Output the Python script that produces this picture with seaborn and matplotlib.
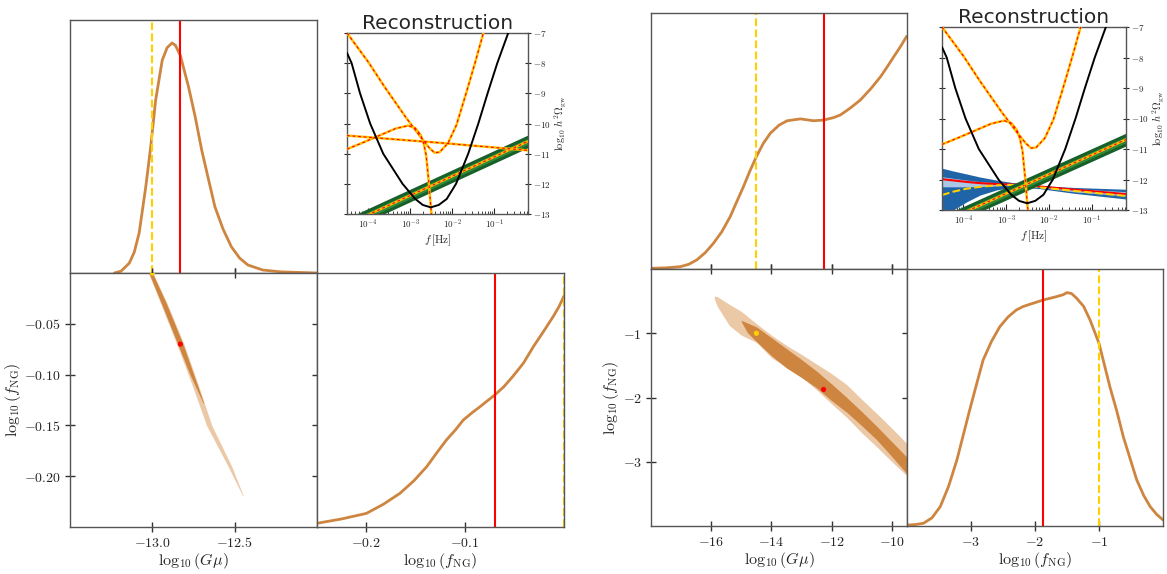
import numpy as np
import matplotlib
matplotlib.use("Agg")
import matplotlib.pyplot as plt
from matplotlib.ticker import FixedLocator, FuncFormatter, LogLocator, NullFormatter
import seaborn as sns

# ---------------- data ----------------
# left set-up: 1D marginals (peak normalised to 1)
gmu_L = [-13.23, -13.19, -13.14, -13.11, -13.08, -13.04, -13.01, -12.98, -12.94, -12.91,
         -12.88, -12.86, -12.83, -12.78, -12.74, -12.70, -12.66, -12.62, -12.57, -12.52,
         -12.47, -12.42, -12.33, -12.22, -12.00]
gmu_L_pdf = [0.0, 0.008, 0.043, 0.09, 0.174, 0.374, 0.548, 0.751, 0.925, 0.98,
             1.0, 0.99, 0.946, 0.809, 0.68, 0.534, 0.41, 0.288, 0.19, 0.114,
             0.065, 0.035, 0.013, 0.005, 0.0]
fng_L = [-0.25, -0.225, -0.20, -0.183, -0.166, -0.152, -0.139, -0.129, -0.119, -0.110,
         -0.102, -0.093, -0.085, -0.078, -0.070, -0.061, -0.052, -0.041, -0.031, -0.021,
         -0.011, -0.005, 0.0]
fng_L_pdf = [0.016, 0.035, 0.059, 0.098, 0.146, 0.2, 0.261, 0.32, 0.377, 0.42,
             0.463, 0.495, 0.521, 0.545, 0.572, 0.607, 0.651, 0.71, 0.781, 0.845,
             0.911, 0.955, 1.0]
# left set-up: 2D credible regions (centre and half width in Gmu, running in fNG)
band_L_fng = [0.0, -0.03, -0.07, -0.11, -0.15, -0.19, -0.219]
band_L_mid = [-13.01, -12.93, -12.83, -12.74, -12.655, -12.53, -12.45]
band_L_half = [0.014, 0.02, 0.022, 0.019, 0.016, 0.011, 0.002]
core_L_fng = [0.0, -0.03, -0.07, -0.10, -0.128]
core_L_mid = [-13.01, -12.93, -12.83, -12.76, -12.69]
core_L_half = [0.011, 0.015, 0.016, 0.011, 0.002]
best_L = [-12.83, -0.07]
inj_L = [-13.0, 0.0]

# right set-up: 1D marginals
gmu_R = [-18.0, -17.5, -17.03, -16.75, -16.48, -16.2, -15.93, -15.65, -15.37, -15.15,
         -14.93, -14.72, -14.50, -14.27, -14.04, -13.75, -13.48, -13.04, -12.60, -12.27,
         -11.95, -11.71, -11.4, -11.05, -10.7, -10.38, -10.15, -9.94, -9.72, -9.51]
gmu_R_pdf = [0.003, 0.005, 0.010, 0.02, 0.039, 0.07, 0.110, 0.16, 0.225, 0.29,
             0.354, 0.42, 0.483, 0.54, 0.583, 0.618, 0.637, 0.645, 0.637, 0.640,
             0.65, 0.662, 0.69, 0.726, 0.775, 0.826, 0.87, 0.912, 0.955, 1.0]
fng_R = [-4.0, -3.87, -3.74, -3.61, -3.48, -3.35, -3.22, -3.12, -3.02, -2.91,
         -2.81, -2.68, -2.55, -2.42, -2.29, -2.18, -2.08, -1.875, -1.66, -1.56,
         -1.50, -1.43, -1.35, -1.24, -1.14, -1.0, -0.83, -0.72, -0.62, -0.51,
         -0.41, -0.30, -0.20, -0.10, 0.0]
fng_R_pdf = [0.004, 0.006, 0.012, 0.035, 0.083, 0.17, 0.283, 0.39, 0.497, 0.61,
             0.711, 0.79, 0.853, 0.895, 0.925, 0.94, 0.949, 0.967, 0.982, 0.99,
             0.999, 0.995, 0.975, 0.94, 0.882, 0.782, 0.596, 0.49, 0.382, 0.285,
             0.197, 0.13, 0.083, 0.05, 0.026]
# right set-up: 2D credible regions (upper / lower fNG edge, running in Gmu)
band_R_gmu = [-15.9, -15.8, -15.4, -15.0, -14.5, -14.0, -13.5, -13.0, -12.5, -12.0,
              -11.5, -11.0, -10.5, -10.0, -9.5]
band_R_hi = [-0.42, -0.43, -0.55, -0.66, -0.85, -1.03, -1.19, -1.33, -1.48, -1.63,
             -1.80, -2.03, -2.25, -2.48, -2.72]
band_R_lo = [-0.46, -0.58, -0.88, -1.03, -1.14, -1.38, -1.53, -1.68, -1.88, -2.10,
             -2.31, -2.55, -2.77, -3.00, -3.22]
core_R_gmu = [-15.0, -14.8, -14.5, -14.0, -13.5, -13.0, -12.5, -12.0, -11.5, -11.0,
              -10.5, -10.0, -9.5]
core_R_hi = [-0.80, -0.84, -0.90, -1.07, -1.24, -1.41, -1.59, -1.79, -2.00, -2.22,
             -2.45, -2.69, -2.93]
core_R_lo = [-0.82, -0.99, -1.13, -1.35, -1.54, -1.69, -1.85, -2.05, -2.23, -2.44,
             -2.66, -2.92, -3.19]
best_R = [-12.27, -1.875]
inj_R = [-14.5, -1.0]

# insets: log10 f [Hz] vs log10 h^2 Omega_gw
lisa_logf = [-4.50, -4.39, -4.19, -3.95, -3.64, -3.18, -2.88, -2.70, -2.51, -2.32,
             -2.13, -1.91, -1.62, -1.38, -1.16, -0.93, -0.67]
lisa_val = [-7.66, -8.0, -9.0, -10.0, -11.0, -12.0, -12.5, -12.7, -12.78, -12.7,
            -12.5, -12.0, -11.0, -10.0, -9.0, -8.0, -7.0]
bump_logf = [-4.5, -4.1, -3.7, -3.35, -3.05, -2.88, -2.75, -2.68, -2.62, -2.56, -2.50, -2.46]
bump_val = [-10.85, -10.62, -10.38, -10.17, -10.07, -10.15, -10.38, -10.65, -11.05, -11.9,
            -12.9, -13.3]
dip_logf = [-4.5, -4.0, -3.6, -3.1, -2.75, -2.55, -2.42, -2.3, -2.1, -1.9, -1.67, -1.45, -1.26]
dip_val = [-7.0, -7.95, -8.8, -9.8, -10.45, -10.8, -10.97, -10.95, -10.65, -10.05,
           -9.0, -7.95, -7.0]
flat_logf = [-4.5, -2.3, -0.2]
flat_val = [-10.40, -10.64, -10.89]
pta_logf = [-4.5, -0.2]
pta_L_val = [-13.35, -10.59]
pta_R_val = [-13.41, -10.69]
# reconstructed string signal in the right inset
str_logf = [-4.5, -4.24, -3.92, -3.61, -3.22, -2.99, -2.75, -2.21, -1.43, -0.2]
str_hi95 = [-11.63, -11.72, -11.82, -11.92, -12.02, -12.07, -12.12, -12.20, -12.26, -12.32]
str_lo95 = [-13.4, -13.0, -12.73, -12.51, -12.34, -12.29, -12.25, -12.30, -12.45, -12.64]
str_hi68 = [-11.91, -11.96, -12.02, -12.07, -12.11, -12.13, -12.15, -12.22, -12.30, -12.40]
str_lo68 = [-12.24, -12.24, -12.24, -12.23, -12.21, -12.19, -12.18, -12.26, -12.40, -12.54]
str_best = [-11.99, -12.03, -12.08, -12.12, -12.15, -12.16, -12.17, -12.23, -12.33, -12.48]
str_inj = [-12.51, -12.40, -12.30, -12.24, -12.19, -12.18, -12.18, -12.26, -12.37, -12.54]

# ---------------- style ----------------
BROWN = "#cd853f"
LIGHT = "#ecc9a6"
GOLD = "#ffd000"
AMBER = "#ffbf00"
W, H = 1167, 574

sns.set_theme(style="ticks")
plt.rcParams["font.family"] = ["DejaVu Sans"]
plt.rcParams["mathtext.fontset"] = "cm"
plt.rcParams["axes.edgecolor"] = "#555555"
plt.rcParams["axes.linewidth"] = 1.0


def place(fig, x0, y0, x1, y1):
    return fig.add_axes([x0 / W, 1 - y1 / H, (x1 - x0) / W, (y1 - y0) / H])


def mfmt(spec):
    return FuncFormatter(lambda v, pos: "$" + format(v, spec) + "$")


def pdf_panel(ax, x, pdf, lim, red, yel, ticks):
    sns.lineplot(x=x, y=pdf, ax=ax, color=BROWN, lw=2.0, sort=False, estimator=None)
    ax.axvline(red, color="red", lw=1.5)
    ax.axvline(yel, color=GOLD, lw=1.5, ls="--")
    ax.set_xlim(lim)
    ax.set_ylim(0, 1.1)
    ax.set_yticks([])
    ax.xaxis.set_major_locator(FixedLocator(ticks))
    ax.tick_params(axis="x", direction="inout", length=7, width=1, color="#333333")
    ax.set_xlabel("")
    ax.set_ylabel("")


def inset_base(ax, title):
    ax.set_xscale("log")
    ax.set_xlim(10 ** -4.5, 10 ** -0.2)
    ax.set_ylim(-13, -7)
    ax.set_title(title, fontsize=14.5, pad=2)
    ax.xaxis.set_major_locator(FixedLocator([1e-4, 1e-3, 1e-2, 1e-1]))
    ax.xaxis.set_major_formatter(FuncFormatter(lambda v, p: "$10^{%d}$" % round(np.log10(v))))
    ax.xaxis.set_minor_locator(LogLocator(base=10, subs=np.arange(2, 10), numticks=20))
    ax.xaxis.set_minor_formatter(NullFormatter())
    ax.yaxis.set_major_locator(FixedLocator([-7, -8, -9, -10, -11, -12, -13]))
    ax.yaxis.set_major_formatter(mfmt(".0f"))
    ax.yaxis.tick_right()
    ax.yaxis.set_label_position("right")
    ax.tick_params(axis="y", which="both", left=True, right=True, direction="inout",
                   length=4, width=0.8, labelsize=6.5, pad=1.5)
    ax.tick_params(axis="x", which="major", direction="in", length=4, width=0.8,
                   labelsize=6.5, pad=3)
    ax.tick_params(axis="x", which="minor", direction="in", length=2, width=0.6)
    ax.set_xlabel(r"$f\,[{\rm Hz}]$", fontsize=8, labelpad=1)
    ax.set_ylabel(r"$\log_{10}\,h^2\Omega_{\rm gw}$", fontsize=7.5, labelpad=1)


def signal(ax, logf, val, z=3):
    f = 10.0 ** np.asarray(logf)
    sns.lineplot(x=f, y=val, ax=ax, color=AMBER, lw=1.8, sort=False, estimator=None, zorder=z)
    sns.lineplot(x=f, y=val, ax=ax, color="red", lw=0.8, ls=(0, (2.5, 2.5)), sort=False,
                 estimator=None, zorder=z + 0.1)


def pta_band(ax, val):
    f = 10.0 ** np.asarray(pta_logf)
    v = np.asarray(val)
    ax.fill_between(f, v - 0.21, v + 0.21, color="#17602a", lw=0, zorder=2)
    ax.fill_between(f, v - 0.1, v + 0.1, color="#2f8a3c", lw=0, zorder=2)
    signal(ax, pta_logf, val, z=2.5)


def lisa(ax):
    sns.lineplot(x=10.0 ** np.asarray(lisa_logf), y=lisa_val, ax=ax, color="black", lw=1.4,
                 sort=False, estimator=None, zorder=4)


def pair_axes(ax):
    ax.tick_params(direction="inout", length=7, width=1, color="#333333", labelsize=10,
                   top=True, right=True, pad=3)
    ax.set_xlabel(r"$\log_{10}(G\mu)$", fontsize=11.5, labelpad=1)
    ax.set_ylabel(r"$\log_{10}(f_{\rm NG})$", fontsize=11.5, labelpad=1)


fig = plt.figure(figsize=(W / 100, H / 100), dpi=100)

# ======================= left corner =======================
ax_t = place(fig, 70, 20, 317, 273)
pdf_panel(ax_t, gmu_L, gmu_L_pdf, (-13.5, -12.0), best_L[0], inj_L[0], [-13.0, -12.5])
ax_t.set_xticklabels([])

ax_p = place(fig, 70, 273, 317, 527)
m, h = np.asarray(band_L_mid), np.asarray(band_L_half)
ax_p.fill_betweenx(band_L_fng, m - h, m + h, color=LIGHT, lw=0)
m, h = np.asarray(core_L_mid), np.asarray(core_L_half)
ax_p.fill_betweenx(core_L_fng, m - h, m + h, color=BROWN, lw=0)
sns.scatterplot(x=[best_L[0]], y=[best_L[1]], ax=ax_p, color="red", s=14, edgecolor="none", zorder=5)
sns.scatterplot(x=[inj_L[0]], y=[inj_L[1]], ax=ax_p, color=GOLD, s=14, edgecolor="none", zorder=5)
ax_p.set_xlim(-13.5, -12.0)
ax_p.set_ylim(-0.25, 0.0)
ax_p.xaxis.set_major_locator(FixedLocator([-13.0, -12.5]))
ax_p.xaxis.set_major_formatter(mfmt(".1f"))
ax_p.yaxis.set_major_locator(FixedLocator([-0.05, -0.10, -0.15, -0.20]))
ax_p.yaxis.set_major_formatter(mfmt(".2f"))
pair_axes(ax_p)

ax_f = place(fig, 317, 273, 564, 527)
pdf_panel(ax_f, fng_L, fng_L_pdf, (-0.25, 0.0), best_L[1], inj_L[1], [-0.2, -0.1])
ax_f.xaxis.set_major_formatter(mfmt(".1f"))
ax_f.tick_params(axis="x", labelsize=10, pad=3)
ax_f.set_xlabel(r"$\log_{10}(f_{\rm NG})$", fontsize=11.5, labelpad=1)

ax_i = place(fig, 347, 33, 528, 214)
inset_base(ax_i, "Reconstruction")
pta_band(ax_i, pta_L_val)
signal(ax_i, flat_logf, flat_val)
signal(ax_i, bump_logf, bump_val)
signal(ax_i, dip_logf, dip_val)
lisa(ax_i)

# ======================= right corner =======================
ax_t = place(fig, 651, 13, 907, 269)
pdf_panel(ax_t, gmu_R, gmu_R_pdf, (-18.0, -9.5), best_R[0], inj_R[0], [-16, -14, -12, -10])
ax_t.set_xticklabels([])

ax_p = place(fig, 651, 269, 907, 526)
ax_p.fill_between(band_R_gmu, band_R_lo, band_R_hi, color=LIGHT, lw=0)
ax_p.fill_between(core_R_gmu, core_R_lo, core_R_hi, color=BROWN, lw=0)
sns.scatterplot(x=[best_R[0]], y=[best_R[1]], ax=ax_p, color="red", s=14, edgecolor="none", zorder=5)
sns.scatterplot(x=[inj_R[0]], y=[inj_R[1]], ax=ax_p, color=GOLD, s=14, edgecolor="none", zorder=5)
ax_p.set_xlim(-18.0, -9.5)
ax_p.set_ylim(-4.0, 0.0)
ax_p.xaxis.set_major_locator(FixedLocator([-16, -14, -12, -10]))
ax_p.xaxis.set_major_formatter(mfmt(".0f"))
ax_p.yaxis.set_major_locator(FixedLocator([-1, -2, -3]))
ax_p.yaxis.set_major_formatter(mfmt(".0f"))
pair_axes(ax_p)

ax_f = place(fig, 907, 269, 1163, 526)
pdf_panel(ax_f, fng_R, fng_R_pdf, (-4.0, 0.0), best_R[1], inj_R[1], [-3, -2, -1])
ax_f.xaxis.set_major_formatter(mfmt(".0f"))
ax_f.tick_params(axis="x", labelsize=10, pad=3)
ax_f.set_xlabel(r"$\log_{10}(f_{\rm NG})$", fontsize=11.5, labelpad=1)

ax_i = place(fig, 942, 27, 1126, 210)
inset_base(ax_i, "Reconstruction")
f_str = 10.0 ** np.asarray(str_logf)
ax_i.fill_between(f_str, str_lo95, str_hi95, color="#2064a8", lw=0, zorder=1)
ax_i.fill_between(f_str, str_lo68, str_hi68, color="#aac8e6", lw=0, zorder=1.1)
sns.lineplot(x=f_str, y=str_best, ax=ax_i, color="red", lw=1.5, sort=False, estimator=None, zorder=1.5)
sns.lineplot(x=f_str, y=str_inj, ax=ax_i, color=GOLD, lw=1.5, ls="--", sort=False,
             estimator=None, zorder=1.6)
pta_band(ax_i, pta_R_val)
signal(ax_i, bump_logf, bump_val)
signal(ax_i, dip_logf, dip_val)
lisa(ax_i)

fig.savefig("out.png", dpi=100)
